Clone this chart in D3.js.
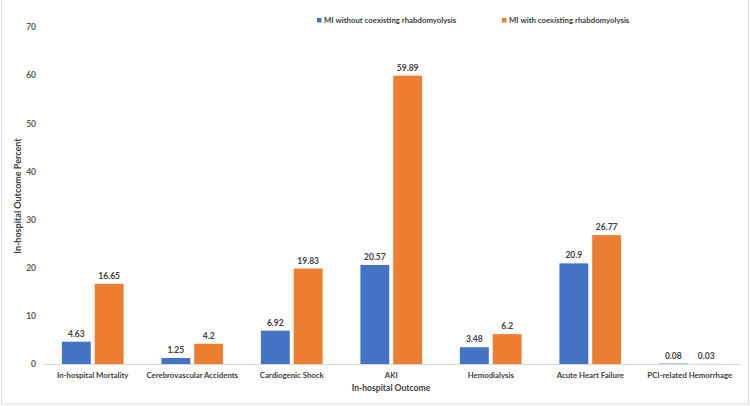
<!DOCTYPE html>
<html><head><meta charset="utf-8">
<script src="https://cdn.jsdelivr.net/npm/d3@7"></script>
<style>
html,body{margin:0;padding:0;background:#fff;}
svg text{font-family:Lato,"Open Sans","Liberation Sans",sans-serif;fill:#595959;}
</style></head>
<body>
<svg id="chart" width="750" height="406"></svg>
<script>
const categories = ["In-hospital Mortality","Cerebrovascular Accidents","Cardiogenic Shock","AKI","Hemodialysis","Acute Heart Failure","PCI-related Hemorrhage"];
const seriesNames = ["MI without coexisting rhabdomyolysis","MI with coexisting rhabdomyolysis"];
const without = [4.63,1.25,6.92,20.57,3.48,20.9,0.08];
const withR = [16.65,4.2,19.83,59.89,6.2,26.77,0.03];
const yTicks = [0,10,20,30,40,50,60,70];
const colors = ["#4472C4","#ED7D31"];

const svg = d3.select("#chart");
const m = {left:43, right:10.5, top:27, bottom:42};
const W = 750, H = 406;

// frame
svg.append("rect").attr("x",1.5).attr("y",-2).attr("width",747).attr("height",406)
  .attr("fill","none").attr("stroke","#d9d9d9").attr("stroke-width",1);

const x = d3.scaleBand().domain(categories).range([m.left, W-m.right]).paddingInner(0).paddingOuter(0);
const x1 = d3.scaleBand().domain([0,1]).range([x.bandwidth()*0.19, x.bandwidth()*0.81]).paddingInner(0.12);
const y = d3.scaleLinear().domain([0,70]).range([364, 27]);

// y tick labels
const yAxis = d3.axisLeft(y).tickValues(yTicks).tickSize(0).tickPadding(0);
const gy = svg.append("g").attr("transform","translate(36,0)").call(yAxis);
gy.select(".domain").remove();
gy.selectAll("text").attr("font-size",8.5).attr("font-weight",700).style("fill","#595959").style("font-family","Lato,sans-serif");

// bars
const data = categories.map((c,i)=>({c, vals:[without[i], withR[i]]}));
const g = svg.append("g");
data.forEach(d=>{
  d.vals.forEach((v,j)=>{
    const bx = x(d.c)+x1(j);
    g.append("rect").attr("x",bx).attr("y",y(v)).attr("width",x1.bandwidth())
      .attr("height",y(0)-y(v)).attr("fill",colors[j]);
    g.append("text").attr("x",bx+x1.bandwidth()/2).attr("y",y(v)-5)
      .attr("text-anchor","middle").attr("font-size",8.5).attr("font-weight",700)
      .style("fill","#404040").text(v);
  });
});

// x axis
const xAxis = d3.axisBottom(x).tickSize(0).tickPadding(8);
const gx = svg.append("g").attr("transform","translate(0,364)").call(xAxis);
gx.select(".domain").attr("stroke","#d9d9d9").attr("stroke-width",1.2);
gx.selectAll("text").attr("font-size",7.8).attr("font-weight",700).style("fill","#404040").style("font-family","Lato,sans-serif");

// axis titles
svg.append("text").attr("x",391).attr("y",391).attr("text-anchor","middle")
  .attr("font-size",8.6).attr("font-weight",700).style("fill","#404040").text("In-hospital Outcome");
svg.append("text").attr("transform","translate(21,196) rotate(-90)").attr("text-anchor","middle")
  .attr("font-size",9).attr("font-weight",700).style("fill","#404040").text("In-hospital Outcome Percent");

// legend
const legX = [317, 502];
seriesNames.forEach((s,i)=>{
  svg.append("rect").attr("x",legX[i]).attr("y",18).attr("width",4.5).attr("height",4.5).attr("fill",colors[i]);
  svg.append("text").attr("x",legX[i]+7).attr("y",23.3).attr("font-size",7.8).attr("font-weight",700)
    .style("fill","#404040").text(s);
});
</script>
</body></html>
